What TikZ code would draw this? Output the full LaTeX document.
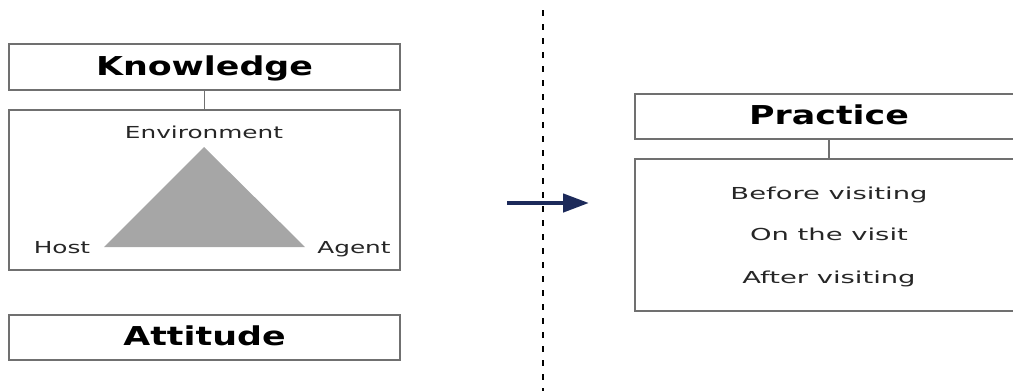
\documentclass[tikz,border=0pt]{standalone}
\usepackage{fontspec}
\newfontfamily\regw[FakeStretch=1.5]{DejaVu Sans}
\newfontfamily\regr[FakeStretch=1.66]{DejaVu Sans}
\newfontfamily\boldw[FakeStretch=1.34]{DejaVu Sans}
\usetikzlibrary{arrows.meta}
\definecolor{boxline}{HTML}{707070}
\definecolor{trifill}{HTML}{A6A6A6}
\definecolor{txtgray}{HTML}{262626}
\definecolor{navy}{HTML}{1C2A5A}
\tikzset{
  titlebox/.style={draw=boxline, line width=1.3pt, fill=white, inner sep=0pt,
    text height=18pt, text depth=2pt, font=\boldw\bfseries\fontsize{26}{30}\selectfont, text=black},
  contentbox/.style={draw=boxline, line width=1.3pt, inner sep=0pt},
  link/.style={draw=boxline, line width=1.3pt},
  lbl/.style={anchor=base, inner sep=0pt, text=txtgray, font=\regw\fontsize{16.5}{19}\selectfont},
  rlbl/.style={anchor=base, inner sep=0pt, text=txtgray, font=\regr\fontsize{16.5}{19}\selectfont},
  divider/.style={line width=2.6pt, dash pattern=on 6pt off 8pt, black},
  flow/.style={line width=4.5pt, navy, -{Triangle[length=26pt,width=18pt]}}
}
\begin{document}
\begin{tikzpicture}[x=1pt,y=-1pt]
\useasboundingbox (0,0) rectangle (1013,391);
\clip (0,0) rectangle (1013,391);
% left column
\node[titlebox, minimum width=391pt, minimum height=46pt] (know) at (204.5,67) {Knowledge};
\node[contentbox, minimum width=391pt, minimum height=160pt] (kin) at (204.5,190) {};
\draw[link] (know.south) -- (kin.north);
\coordinate (tapex) at (204,147);
\coordinate (tleft) at (104,247);
\coordinate (tright) at (305,247);
\fill[trifill] (tleft) -- (tapex) -- (tright) -- cycle;
\node[lbl] (env) at (204,138) {Environment};
\node[lbl] (host) at (62,253) {Host};
\node[lbl] (agent) at (354,253) {Agent};
\node[titlebox, minimum width=391pt, minimum height=45pt] (att) at (204.5,337.5) {Attitude};
% divider
\coordinate (dtop) at (543,10);
\coordinate (dbot) at (543,395);
\draw[divider] (dtop) -- (dbot);
% arrow
\coordinate (as) at (507,203);
\coordinate (ae) at (589,203);
\draw[flow] (as) -- (ae);
% right column
\node[titlebox, minimum width=388pt, minimum height=45pt] (prac) at (829,116.5) {Practice};
\node[contentbox, minimum width=388pt, minimum height=152pt] (pin) at (829,235) {};
\draw[link] (prac.south) -- (pin.north);
\node[rlbl] (before) at (829,199) {Before visiting};
\node[rlbl] (onvisit) at (829,240) {On the visit};
\node[rlbl] (after) at (829,283) {After visiting};
\end{tikzpicture}
\end{document}
